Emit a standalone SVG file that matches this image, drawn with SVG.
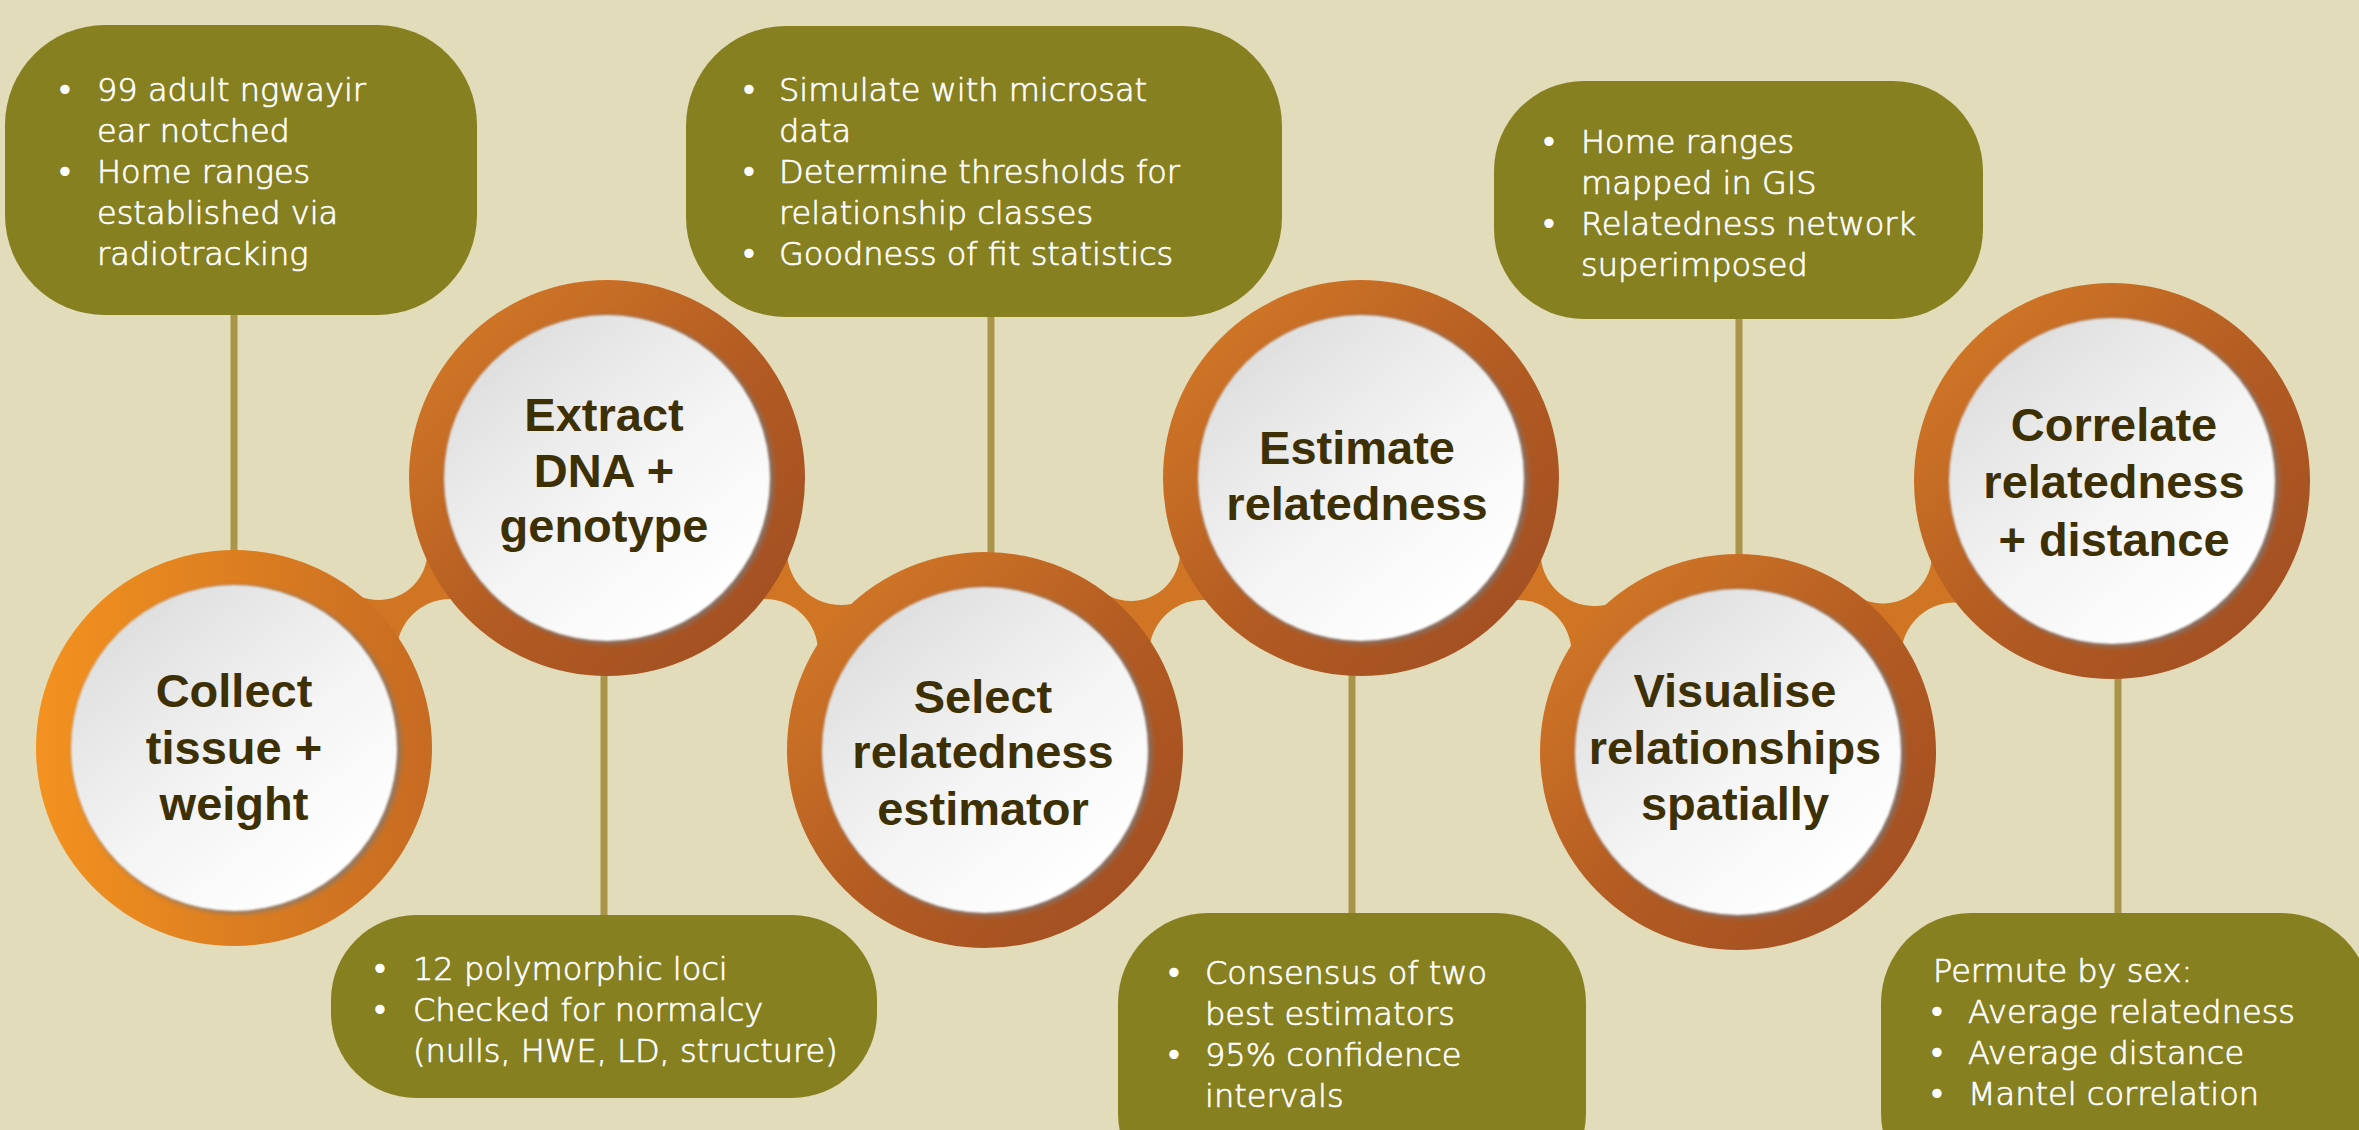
<svg xmlns="http://www.w3.org/2000/svg" width="2359" height="1130" viewBox="0 0 2359 1130">
<defs>
<linearGradient id="ring1" x1="0" y1="0" x2="1" y2="0">
<stop offset="0" stop-color="#F3921F"/><stop offset="1" stop-color="#C66B22"/>
</linearGradient>
<linearGradient id="ring" x1="0.1" y1="0.1" x2="0.9" y2="0.9">
<stop offset="0" stop-color="#D27727"/><stop offset="0.55" stop-color="#B25B22"/><stop offset="1" stop-color="#A34F22"/>
</linearGradient>
<linearGradient id="disc" x1="0.15" y1="0.1" x2="0.8" y2="0.9">
<stop offset="0" stop-color="#DEDEDE"/><stop offset="0.55" stop-color="#F4F4F4"/><stop offset="1" stop-color="#FFFFFF"/>
</linearGradient>
<filter id="blur3" x="-10%" y="-10%" width="120%" height="120%"><feGaussianBlur stdDeviation="2.5"/></filter>
<filter id="blur1" x="-10%" y="-10%" width="120%" height="120%"><feGaussianBlur stdDeviation="1.2"/></filter>
<style>
.bg{fill:#E2DCBA}
.box{fill:#868021}
.stem{stroke:#A9944A;stroke-width:7;fill:none}
.bridge{fill:#CF7524}
.notch{fill:#E2DCBA}
.shadow{fill:#7A7A7A;opacity:0.75}
.disc{fill:url(#disc)}
.body{font-family:"DejaVu Sans",sans-serif;font-weight:300;font-size:32px;fill:#FFFFFF;stroke:#FFFFFF;stroke-width:0.7}
.bul{font-family:"DejaVu Sans",sans-serif;font-size:32px;fill:#FFFFFF;text-anchor:middle}
.title{font-family:"Liberation Sans",Arial,sans-serif;font-weight:bold;font-size:47px;fill:#3C3004;text-anchor:middle}
</style>
</defs>
<rect class="bg" x="0" y="0" width="2359" height="1130"/>

<g id="connectors">
<line class="stem" x1="234" y1="300" x2="234" y2="600"/>
<line class="stem" x1="604" y1="640" x2="604" y2="930"/>
<line class="stem" x1="991" y1="300" x2="991" y2="600"/>
<line class="stem" x1="1352" y1="640" x2="1352" y2="930"/>
<line class="stem" x1="1739" y1="300" x2="1739" y2="600"/>
<line class="stem" x1="2118" y1="640" x2="2118" y2="930"/>
<g id="bridge-1-2"><polygon class="bridge" points="234,748 378.5,551 607,478 450.5,653"/><circle class="notch" cx="378.5" cy="551" r="49"/><circle class="notch" cx="450.5" cy="653" r="54"/></g>
<g id="bridge-2-3"><polygon class="bridge" points="607,478 841,551 985,750 765,652"/><circle class="notch" cx="841" cy="551" r="54"/><circle class="notch" cx="765" cy="652" r="53"/></g>
<g id="bridge-3-4"><polygon class="bridge" points="985,750 1131,552 1361,478 1203,654"/><circle class="notch" cx="1131" cy="552" r="49"/><circle class="notch" cx="1203" cy="654" r="54"/></g>
<g id="bridge-4-5"><polygon class="bridge" points="1361,478 1594.5,552 1738,752 1518.5,653"/><circle class="notch" cx="1594.5" cy="552" r="54"/><circle class="notch" cx="1518.5" cy="653" r="53"/></g>
<g id="bridge-5-6"><polygon class="bridge" points="1738,752 1883,554.5 2112,481 1955,656.5"/><circle class="notch" cx="1883" cy="554.5" r="49"/><circle class="notch" cx="1955" cy="656.5" r="54"/></g>
</g>

<g id="box-collect">
<rect class="box" x="5" y="25" width="472" height="290" rx="100" ry="100"/>
<text class="bul" x="65" y="101">•</text><text class="body" x="97" y="101">99 adult ngwayir</text>
<text class="body" x="97" y="142">ear notched</text>
<text class="bul" x="65" y="183">•</text><text class="body" x="97" y="183">Home ranges</text>
<text class="body" x="97" y="224">established via</text>
<text class="body" x="97" y="265">radiotracking</text>
</g>

<g id="box-extract">
<rect class="box" x="331" y="915" width="546" height="183" rx="85" ry="85"/>
<text class="bul" x="380" y="980">•</text><text class="body" x="413" y="980">12 polymorphic loci</text>
<text class="bul" x="380" y="1021">•</text><text class="body" x="413" y="1021">Checked for normalcy</text>
<text class="body" x="413" y="1062">(nulls, HWE, LD, structure)</text>
</g>

<g id="box-select">
<rect class="box" x="686" y="26" width="596" height="291" rx="100" ry="100"/>
<text class="bul" x="749" y="101">•</text><text class="body" x="779" y="101">Simulate with microsat</text>
<text class="body" x="779" y="142">data</text>
<text class="bul" x="749" y="183">•</text><text class="body" x="779" y="183">Determine thresholds for</text>
<text class="body" x="779" y="224">relationship classes</text>
<text class="bul" x="749" y="265">•</text><text class="body" x="779" y="265">Goodness of fit statistics</text>
</g>

<g id="box-estimate">
<rect class="box" x="1118" y="913" width="468" height="290" rx="90" ry="90"/>
<text class="bul" x="1174" y="984">•</text><text class="body" x="1205" y="984">Consensus of two</text>
<text class="body" x="1205" y="1025">best estimators</text>
<text class="bul" x="1174" y="1066">•</text><text class="body" x="1205" y="1066">95% confidence</text>
<text class="body" x="1205" y="1107">intervals</text>
</g>

<g id="box-visualise">
<rect class="box" x="1494" y="81" width="489" height="238" rx="90" ry="90"/>
<text class="bul" x="1549" y="153">•</text><text class="body" x="1581" y="153">Home ranges</text>
<text class="body" x="1581" y="194">mapped in GIS</text>
<text class="bul" x="1549" y="235">•</text><text class="body" x="1581" y="235">Relatedness network</text>
<text class="body" x="1581" y="276">superimposed</text>
</g>

<g id="box-correlate">
<rect class="box" x="1881" y="913" width="490" height="290" rx="90" ry="90"/>
<text class="body" x="1933" y="982">Permute by sex:</text>
<text class="bul" x="1937" y="1023">•</text><text class="body" x="1968" y="1023">Average relatedness</text>
<text class="bul" x="1937" y="1064">•</text><text class="body" x="1968" y="1064">Average distance</text>
<text class="bul" x="1937" y="1105">•</text><text class="body" x="1968" y="1105">Mantel correlation</text>
</g>

<g id="node-collect">
<circle cx="234" cy="748" r="198" fill="url(#ring1)"/>
<circle class="shadow" cx="237" cy="750" r="164" filter="url(#blur3)"/>
<circle class="disc" cx="234" cy="748" r="163" filter="url(#blur1)"/>
<text class="title" x="234" y="707">Collect</text>
<text class="title" x="234" y="764">tissue +</text>
<text class="title" x="234" y="820">weight</text>
</g>

<g id="node-extract">
<circle cx="607" cy="478" r="198" fill="url(#ring)"/>
<circle class="shadow" cx="610" cy="480" r="164" filter="url(#blur3)"/>
<circle class="disc" cx="607" cy="478" r="163" filter="url(#blur1)"/>
<text class="title" x="604" y="431">Extract</text>
<text class="title" x="604" y="487">DNA +</text>
<text class="title" x="604" y="542">genotype</text>
</g>

<g id="node-select">
<circle cx="985" cy="750" r="198" fill="url(#ring)"/>
<circle class="shadow" cx="988" cy="752" r="164" filter="url(#blur3)"/>
<circle class="disc" cx="985" cy="750" r="163" filter="url(#blur1)"/>
<text class="title" x="983" y="713">Select</text>
<text class="title" x="983" y="768">relatedness</text>
<text class="title" x="983" y="825">estimator</text>
</g>

<g id="node-estimate">
<circle cx="1361" cy="478" r="198" fill="url(#ring)"/>
<circle class="shadow" cx="1364" cy="480" r="164" filter="url(#blur3)"/>
<circle class="disc" cx="1361" cy="478" r="163" filter="url(#blur1)"/>
<text class="title" x="1357" y="464">Estimate</text>
<text class="title" x="1357" y="520">relatedness</text>
</g>

<g id="node-visualise">
<circle cx="1738" cy="752" r="198" fill="url(#ring)"/>
<circle class="shadow" cx="1741" cy="754" r="164" filter="url(#blur3)"/>
<circle class="disc" cx="1738" cy="752" r="163" filter="url(#blur1)"/>
<text class="title" x="1735" y="707">Visualise</text>
<text class="title" x="1735" y="764">relationships</text>
<text class="title" x="1735" y="820">spatially</text>
</g>

<g id="node-correlate">
<circle cx="2112" cy="481" r="198" fill="url(#ring)"/>
<circle class="shadow" cx="2115" cy="483" r="164" filter="url(#blur3)"/>
<circle class="disc" cx="2112" cy="481" r="163" filter="url(#blur1)"/>
<text class="title" x="2114" y="441">Correlate</text>
<text class="title" x="2114" y="498">relatedness</text>
<text class="title" x="2114" y="556">+ distance</text>
</g>
</svg>
